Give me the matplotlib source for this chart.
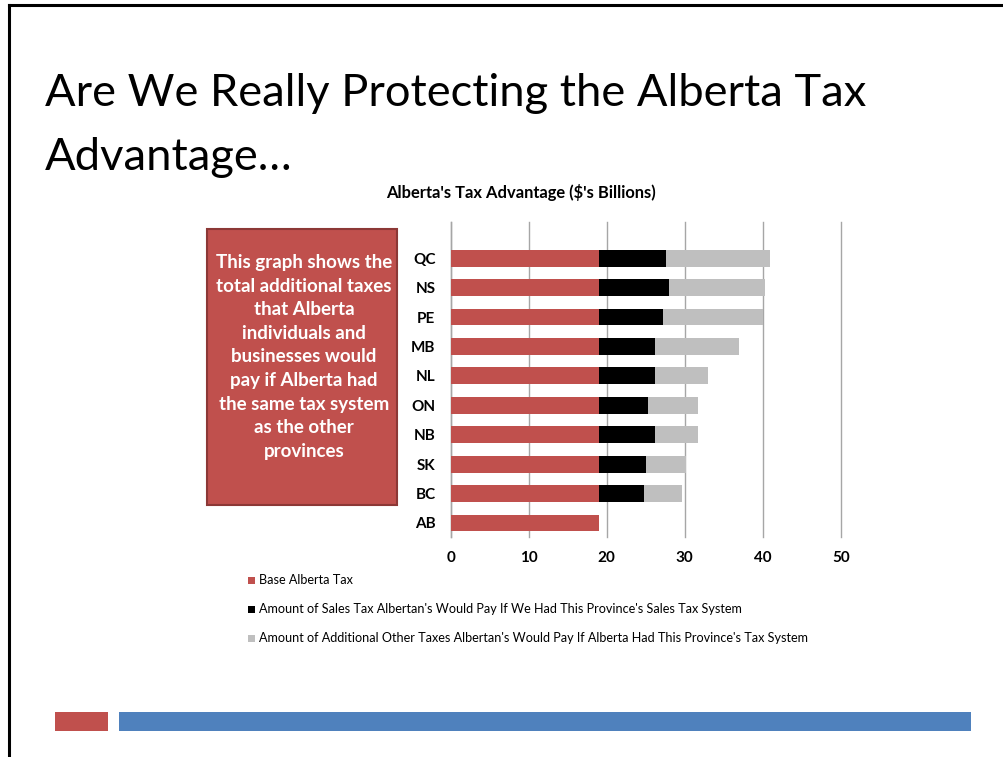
import matplotlib
matplotlib.use("Agg")
import matplotlib.pyplot as plt
from matplotlib.patches import Rectangle
import numpy as np

plt.rcParams['font.family'] = ['Lato', 'DejaVu Sans']

# Provinces listed bottom to top as drawn
provinces = ["AB", "BC", "SK", "NB", "ON", "NL", "MB", "PE", "NS", "QC"]
base_tax = [19.05, 19.05, 19.05, 19.05, 19.05, 19.05, 19.05, 19.05, 19.05, 19.05]
sales_tax = [0.0, 5.75, 5.95, 7.15, 6.25, 7.15, 7.15, 8.15, 8.95, 8.5]
other_tax = [0.0, 4.8, 5.2, 5.5, 6.4, 6.8, 10.8, 12.8, 12.3, 13.35]
x_ticks = [0, 10, 20, 30, 40, 50]

series_labels = [
    "Base Alberta Tax",
    "Amount of Sales Tax Albertan's Would Pay If We Had This Province's Sales Tax System",
    "Amount of Additional Other Taxes Albertan's Would Pay If Alberta Had This Province's Tax System",
]
series_colors = ["#C0504D", "#000000", "#BFBFBF"]

W, H = 1004, 757
fig = plt.figure(figsize=(W / 100, H / 100), dpi=100)
fig.patch.set_facecolor("white")


def fx(px):
    return px / W


def fy(py):
    return 1 - py / H


# Slide frame (top and left edges)
fig.add_artist(plt.Line2D([fx(9), fx(9)], [fy(5), fy(757)], color="black", lw=2.2, transform=fig.transFigure))
fig.add_artist(plt.Line2D([fx(9), fx(1004)], [fy(5), fy(5)], color="black", lw=2.2, transform=fig.transFigure))

# Slide title
fig.text(fx(45), fy(106), "Are We Really Protecting the Alberta Tax", fontsize=32.6, color="black",
         ha="left", va="baseline")
fig.text(fx(45), fy(170), "Advantage\u2026", fontsize=32.6, color="black", ha="left", va="baseline")

# Chart
ax = fig.add_axes([fx(450.7), fy(537.4), fx(840.7) - fx(450.7), (537.4 - 222) / H])
y = np.arange(len(provinces))
left = np.zeros(len(provinces))
for vals, color, label in zip([base_tax, sales_tax, other_tax], series_colors, series_labels):
    ax.barh(y, vals, left=left, height=0.57, color=color, label=label, zorder=3)
    left = left + np.array(vals)

ax.set_xlim(0, 50)
ax.set_ylim(-0.49, 10.23)
ax.set_xticks(x_ticks)
ax.set_xticklabels([str(t) for t in x_ticks], fontsize=11, fontweight="bold")
ax.set_yticks(y)
ax.set_yticklabels(provinces, fontsize=11, fontweight="bold")
ax.tick_params(axis="both", length=0)
ax.tick_params(axis="y", pad=11)
ax.tick_params(axis="x", pad=10)
ax.xaxis.grid(True, color="#A6A6A6", lw=1, zorder=0)
for gl in ax.get_xgridlines():
    gl.set_clip_on(False)
for s in ["top", "right", "bottom"]:
    ax.spines[s].set_visible(False)
ax.spines["left"].set_color("#A6A6A6")
ax.spines["left"].set_linewidth(1)

fig.text(fx(520.5), fy(193), "Alberta's Tax Advantage ($'s Billions)", fontsize=11.9, fontweight="bold",
         ha="center", va="center")

# Legend, stacked vertically under the chart
for i, (label, color) in enumerate(zip(series_labels, series_colors)):
    yy = 580 + i * 29
    fig.add_artist(Rectangle((fx(248), fy(yy + 3.5)), fx(7), 7 / H, facecolor=color,
                             edgecolor="none", transform=fig.transFigure))
    fig.text(fx(259), fy(yy), label, fontsize=9.05, ha="left", va="center")

# Explanatory callout box
fig.add_artist(Rectangle((fx(207), fy(505)), fx(397) - fx(207), (505 - 229) / H,
                         facecolor="#C0504D", edgecolor="#8C3836", lw=1.5, transform=fig.transFigure))
callout = ("This graph shows the\ntotal additional taxes\nthat Alberta\nindividuals and\n"
           "businesses would\npay if Alberta had\nthe same tax system\nas the other\nprovinces")
fig.text(fx(304), fy(357), callout, fontsize=13.5, fontweight="bold", color="white",
         ha="center", va="center", linespacing=1.47)

# Footer bars
fig.add_artist(Rectangle((fx(55), fy(731)), fx(53), 19 / H, facecolor="#C0504D",
                         edgecolor="none", transform=fig.transFigure))
fig.add_artist(Rectangle((fx(119), fy(731)), fx(852), 19 / H, facecolor="#4F81BD",
                         edgecolor="none", transform=fig.transFigure))

fig.savefig("out.png", dpi=100, facecolor="white")
